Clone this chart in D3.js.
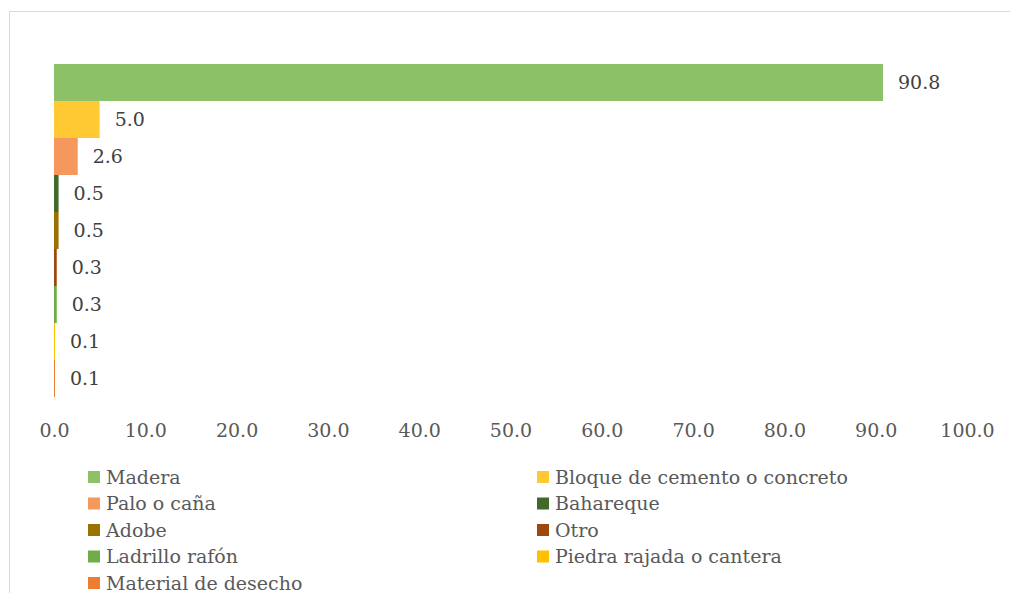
<!DOCTYPE html>
<html>
<head>
<meta charset="utf-8">
<script src="https://cdn.jsdelivr.net/npm/d3@7"></script>
<style>
  body { margin: 0; background: #fff; }
  svg { display: block; }
</style>
</head>
<body>
<script>
var width = 1010, height = 593;
var serif = "'DejaVu Serif', 'Liberation Serif', serif";

// data
var categories = ["Madera", "Bloque de cemento o concreto", "Palo o caña", "Bahareque", "Adobe",
                  "Otro", "Ladrillo rafón", "Piedra rajada o cantera", "Material de desecho"];
var values = [90.8, 5.0, 2.6, 0.5, 0.5, 0.3, 0.3, 0.1, 0.1];
var colors = ["#8cc168", "#ffc933", "#f4985d", "#43682b", "#997300",
              "#9e480e", "#70ad47", "#ffc000", "#ed7d31"];
var ticks = [0, 10, 20, 30, 40, 50, 60, 70, 80, 90, 100];

var data = categories.map(function(c, i){ return {name: c, value: values[i], color: colors[i]}; });

var svg = d3.select("body")
    .append("svg")
    .attr("width", width)
    .attr("height", height);

// chart border (right/bottom edges fall outside the window)
svg.append("rect")
    .attr("x", 9.5)
    .attr("y", 11.5)
    .attr("width", 1020)
    .attr("height", 620)
    .attr("fill", "none")
    .attr("stroke", "#d9d9d9")
    .attr("stroke-width", 1);

var x = d3.scaleLinear().domain([0, 100]).range([54, 967]);
var y = d3.scaleBand().domain(categories).range([64, 397]).padding(0);

// bars
svg.append("g").selectAll("rect")
  .data(data)
  .enter().append("rect")
    .attr("x", x(0))
    .attr("y", function(d){ return y(d.name); })
    .attr("width", function(d){ return Math.max(x(d.value) - x(0), 1); })
    .attr("height", y.bandwidth())
    .attr("fill", function(d){ return d.color; });

// data labels
svg.append("g").selectAll("text")
  .data(data)
  .enter().append("text")
    .attr("x", function(d){ return x(d.value) + 15; })
    .attr("y", function(d){ return y(d.name) + y.bandwidth() / 2; })
    .attr("dy", "0.35em")
    .attr("font-family", serif)
    .attr("font-size", 19)
    .attr("fill", "#404040")
    .text(function(d){ return d.value.toFixed(1); });

// x axis (labels only)
var axis = svg.append("g")
    .attr("transform", "translate(0,416)")
    .call(d3.axisBottom(x).tickValues(ticks).tickSize(0).tickPadding(8)
      .tickFormat(function(d){ return d.toFixed(1); }));
axis.attr("font-family", serif);
axis.select(".domain").remove();
axis.selectAll("text")
    .attr("font-size", 19)
    .attr("fill", "#595959");

// legend, two columns
var legend = svg.append("g").selectAll("g")
  .data(data)
  .enter().append("g")
    .attr("transform", function(d, i){
      var col = i % 2, row = Math.floor(i / 2);
      return "translate(" + (col ? 537 : 88) + "," + (477 + row * 26.5) + ")";
    });

legend.append("rect")
    .attr("x", 0)
    .attr("y", -6)
    .attr("width", 12)
    .attr("height", 12)
    .attr("fill", function(d){ return d.color; });

legend.append("text")
    .attr("x", 18)
    .attr("dy", "0.35em")
    .attr("font-family", serif)
    .attr("font-size", 19)
    .attr("fill", "#595959")
    .text(function(d){ return d.name; });
</script>
</body>
</html>
